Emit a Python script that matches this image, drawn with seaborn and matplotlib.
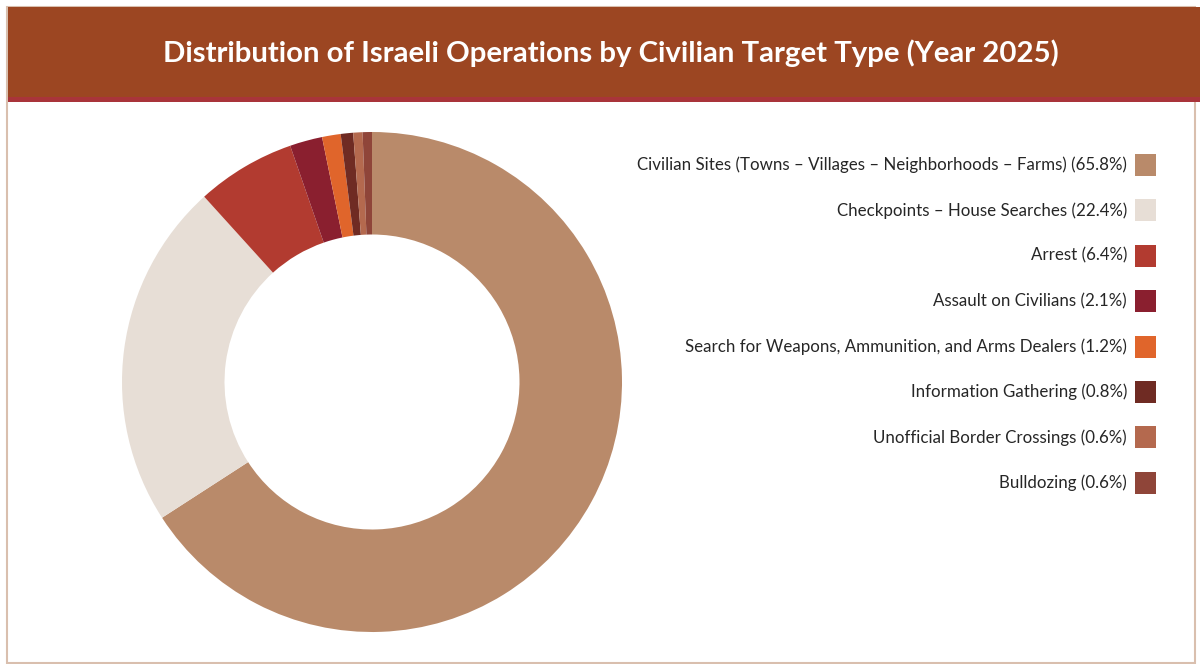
import matplotlib
matplotlib.use("Agg")
import matplotlib.pyplot as plt
from matplotlib.patches import Rectangle
import seaborn as sns

categories = [
    "Civilian Sites (Towns – Villages – Neighborhoods – Farms)",
    "Checkpoints – House Searches",
    "Arrest",
    "Assault on Civilians",
    "Search for Weapons, Ammunition, and Arms Dealers",
    "Information Gathering",
    "Unofficial Border Crossings",
    "Bulldozing",
]
shares = [65.8, 22.4, 6.4, 2.1, 1.2, 0.8, 0.6, 0.6]
colors = ["#B98A6A", "#E7DED6", "#B23B30", "#8A1F2F",
          "#E0652B", "#6F2B23", "#B4694E", "#8F4539"]
title = "Distribution of Israeli Operations by Civilian Target Type (Year 2025)"

sns.set_theme(style="white")
plt.rcParams["font.family"] = ["Lato", "DejaVu Sans"]

W, H = 1200, 664
fig = plt.figure(figsize=(W / 100, H / 100), dpi=100)
fig.patch.set_facecolor("white")

# frame around the card
fig.add_artist(Rectangle((7 / W, 1 / H), 1188 / W, (H - 8) / H, transform=fig.transFigure,
                         facecolor="none", edgecolor="#D9BFAE", lw=1.5))
# header band with red underline
fig.add_artist(Rectangle((8 / W, (H - 98) / H), (W - 8) / W, 91 / H, transform=fig.transFigure,
                         facecolor="#9C4622", edgecolor="none"))
fig.add_artist(Rectangle((8 / W, (H - 102) / H), (W - 8) / W, 5 / H, transform=fig.transFigure,
                         facecolor="#A9343A", edgecolor="none"))
fig.text(611 / W, (H - 53) / H, title, ha="center", va="center", color="white",
         fontsize=21.2, fontweight="bold")

# donut
ax = fig.add_axes([122 / W, 32 / H, 500 / W, 500 / H])
ax.pie(shares, colors=colors, startangle=90, counterclock=False, radius=1.0,
       wedgeprops=dict(width=0.41, edgecolor="none", linewidth=0))
ax.set_xlim(-1, 1)
ax.set_ylim(-1, 1)
ax.set_aspect("equal")
ax.axis("off")

# legend on the right, text right-aligned before the swatch
y0, dy = 165, 45.4
for i, (cat, val, col) in enumerate(zip(categories, shares, colors)):
    yc = y0 + i * dy
    fig.text(1127 / W, (H - yc) / H, f"{cat} ({val}%)", ha="right", va="center",
             fontsize=12.15, color="#262626")
    fig.add_artist(Rectangle((1135 / W, (H - yc - 11) / H), 21 / W, 22 / H,
                             transform=fig.transFigure, facecolor=col, edgecolor="none"))

fig.savefig("out.png", dpi=100, facecolor="white")
